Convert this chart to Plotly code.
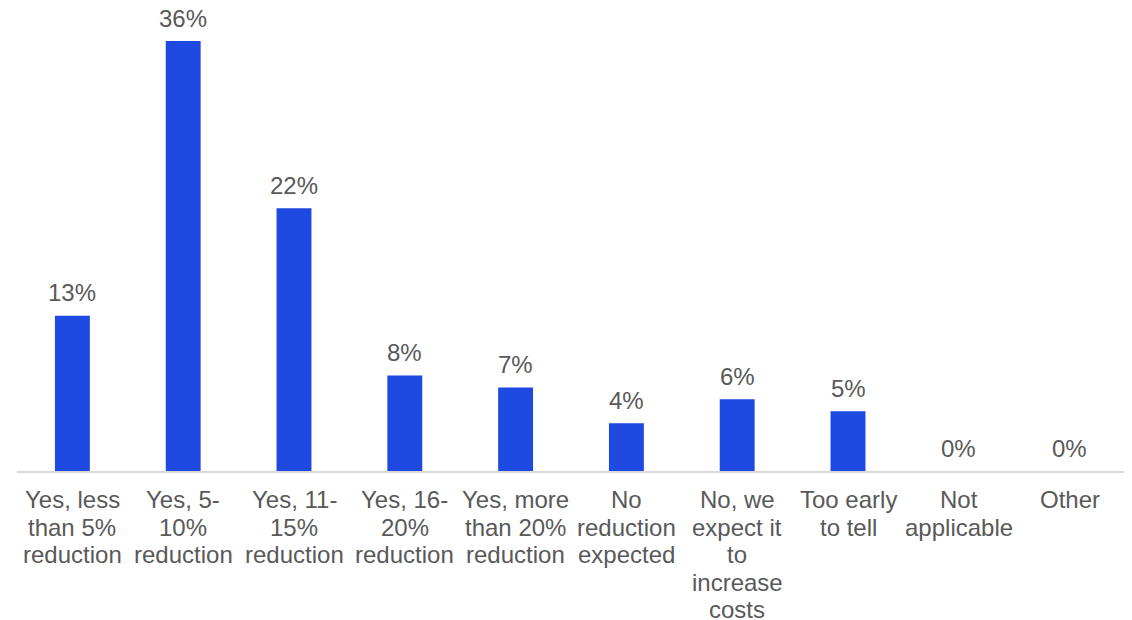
import plotly.graph_objects as go

categories = [
    "Yes, less<br>than 5%<br>reduction",
    "Yes, 5-<br>10%<br>reduction",
    "Yes, 11-<br>15%<br>reduction",
    "Yes, 16-<br>20%<br>reduction",
    "Yes, more<br>than 20%<br>reduction",
    "No<br>reduction<br>expected",
    "No, we<br>expect it<br>to<br>increase<br>costs",
    "Too early<br>to tell",
    "Not<br>applicable",
    "Other",
]
values = [0.13, 0.36, 0.22, 0.08, 0.07, 0.04, 0.06, 0.05, 0.00, 0.00]

FONT = "Liberation Sans, Arial, sans-serif"
TXT = "#595959"

fig = go.Figure(
    go.Bar(
        x=categories,
        y=values,
        marker=dict(color="#1f4ae1", line=dict(width=0)),
        hoverinfo="x+y",
    )
)

annotations = []
# data labels above bars
for cat, v in zip(categories, values):
    annotations.append(dict(
        x=cat, y=v, xref="x", yref="y",
        text=f"{round(v * 100)}%",
        showarrow=False, yanchor="middle", yshift=23, borderpad=0,
        font=dict(family=FONT, size=24, color=TXT),
    ))
# category labels under the axis, line by line (tight line spacing)
for cat in categories:
    for i, line in enumerate(cat.split("<br>")):
        annotations.append(dict(
            x=cat, y=0, xref="x", yref="y",
            text=line,
            showarrow=False, yanchor="middle", yshift=-(28.5 + 27.5 * i), borderpad=0,
            font=dict(family=FONT, size=24, color=TXT),
        ))

# page body has an 8px default margin, so the figure is slightly smaller than the window
fig.update_layout(
    width=1124,
    height=612,
    margin=dict(l=9, r=7, t=12, b=149),
    plot_bgcolor="white",
    paper_bgcolor="white",
    bargap=0.685,
    showlegend=False,
    font=dict(family=FONT, size=24, color=TXT),
    annotations=annotations,
)
fig.update_yaxes(range=[0, 0.3776], visible=False, showgrid=False, zeroline=False)
fig.update_xaxes(
    showline=True,
    linecolor="#d9d9d9",
    linewidth=1.5,
    showticklabels=False,
    ticks="",
    automargin=False,
)

fig.write_html("out.html")
